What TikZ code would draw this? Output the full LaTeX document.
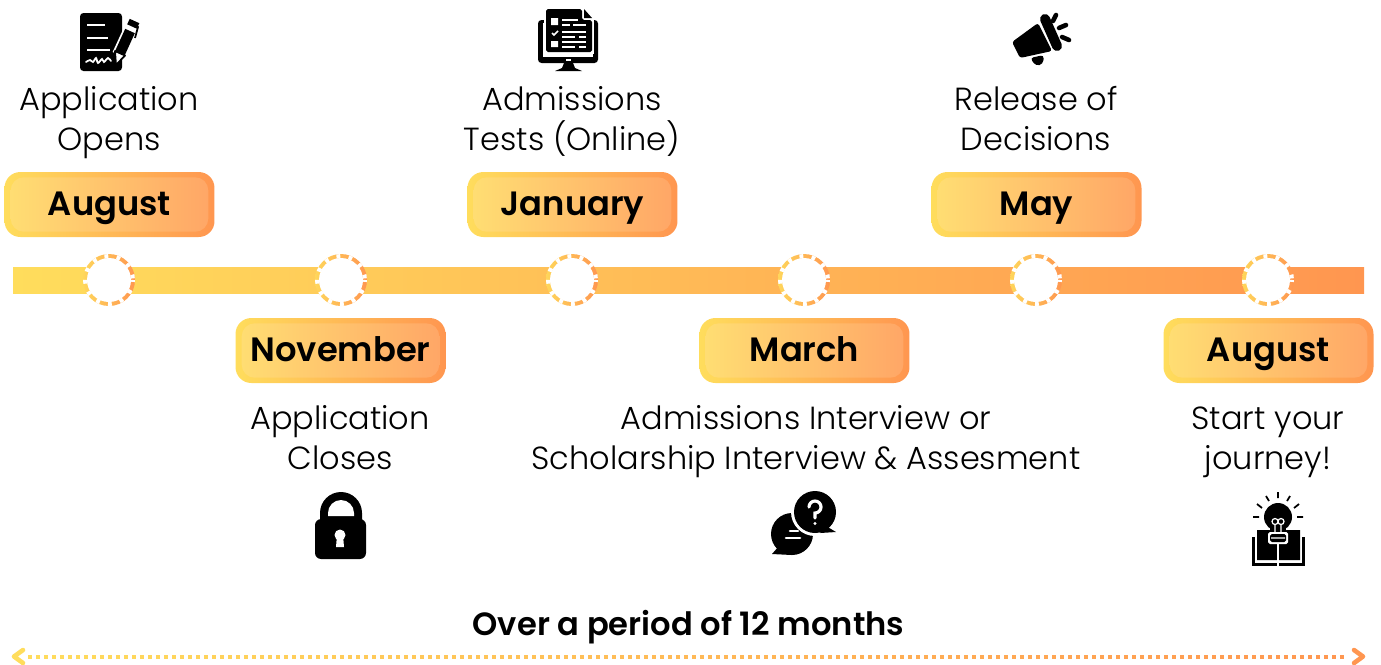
\documentclass[tikz,border=0pt]{standalone}
\usepackage{fontspec}
\setmainfont{Poppins Light}[BoldFont=Poppins SemiBold]
\usetikzlibrary{arrows.meta}
\definecolor{barleft}{HTML}{FFDD5C}
\definecolor{barright}{HTML}{FF9650}
\definecolor{innerleft}{HTML}{FFDF73}
\definecolor{innerright}{HTML}{FFA566}
\tikzset{
  monthbox/.style={minimum width=4.2cm, minimum height=1.3cm, inner sep=0pt, rounded corners=9pt,
    left color=barleft, right color=barright, font=\fontsize{19.2}{23}\selectfont\bfseries, text=black,
    text height=16pt, text depth=4pt,
    path picture={\shade[left color=innerleft, right color=innerright, rounded corners=7.5pt]
      ([xshift=3.5pt,yshift=3pt]path picture bounding box.south west) rectangle
      ([xshift=-3.5pt,yshift=-3pt]path picture bounding box.north east);}},
  ringdot/.style={circle, minimum size=1.04cm, inner sep=0pt, left color=barleft!90!barright, right color=barright,
    path picture={\fill[white] (path picture bounding box.center) circle (22);
      \draw[white, line width=3pt, dash pattern=on 2.2pt off 4.92pt, dash phase=1.1pt]
      (path picture bounding box.center) circle (24.5);}},
  steplabel/.style={align=center, anchor=base, font=\fontsize{18.2}{22.7}\selectfont, text=black},
}
\begin{document}
\begin{tikzpicture}[x=0.02cm,y=-0.02cm]
  \useasboundingbox (0,0) rectangle (1381,664);
  \shade[left color=barleft, right color=barright] (13,267) rectangle (1364,293); % bar
  \foreach \name/\x in {a/109,b/341,c/572,d/804,e/1036,f/1268}
    \node[ringdot] (ring\name) at (\x,280) {}; % dashed circles

  \node[monthbox] (aug) at (109.5,204.5) {August};
  \node[monthbox] (jan) at (572.5,204.5) {January};
  \node[monthbox] (may) at (1036.5,204.5) {May};
  \node[monthbox] (nov) at (340.5,350.5) {November};
  \node[monthbox] (mar) at (804.5,350.5) {March};
  \node[monthbox] (start) at (1268.5,350.5) {August};

  \node[steplabel] (opens) at (109,150) {Application\\Opens};
  \node[steplabel] (tests) at (572,150) {Admissions\\Tests (Online)};
  \node[steplabel] (release) at (1036,150) {Release of\\Decisions};
  \node[steplabel] (closes) at (340,469) {Application\\Closes};
  \node[steplabel] (interview) at (806,469) {Admissions Interview or\\Scholarship Interview \& Assesment};
  \node[steplabel] (journey) at (1268,469) {Start your\\journey!};
  \node[anchor=base, font=\fontsize{18.3}{22}\selectfont\bfseries] (period) at (688.5,635) {Over a period of 12 months};

  % arrow under the title
  \coordinate (arrowl) at (14,656.5);
  \coordinate (arrowr) at (1363,656.5);
  \foreach \i in {2,...,166} {
    \pgfmathsetmacro{\mix}{\i/168*100}
    \fill[barright!\mix!barleft] ([xshift=\i*8*0.02cm-2*0.02cm,yshift=2*0.02cm]arrowl) rectangle ++(4,4);
  }
  \draw[barleft, line width=2.6pt, line cap=round, line join=round] (23,650) -- (arrowl) -- (23,663); % left head
  \draw[barright, line width=2.6pt, line cap=round, line join=round] (1354,650) -- (arrowr) -- (1354,663); % right head

  % document and pen
  \fill[black, rounded corners=2pt] (80,13) rectangle (122,71);
  \draw[white, line width=1pt] (87,25) -- (105,25) (87,38) -- (108,38) (87,50) -- (110,50);
  \draw[white, line width=1pt, line cap=round] plot[smooth] coordinates {(86,62) (90,60) (93,62) (96,58) (98,63) (102,59) (104,62) (108,58) (111,61)};
  \draw[white, line width=8pt] (119,55) -- (131,29);
  \draw[black, line width=6pt] (120,53) -- (130,31);
  \draw[black, fill=white, line width=1pt, line join=round] (115,51) -- (125,55.5) -- (116,65) -- cycle;
  \draw[black, line width=6pt] (132,26.5) -- (134.5,21);
  \draw[black, line width=1pt] (133,23) -- (138,27) -- (135,38);

  % monitor with test sheet
  \fill[black, rounded corners=2pt] (538,20) rectangle (598,63);
  \fill[white] (543,23) rectangle (593,57);
  \fill[white] (566,59) rectangle (571,61);
  \fill[black] (564,63) -- (573,63) -- (575,68) -- (582,71) -- (555,71) -- (562,68) -- cycle;
  \fill[white] (544,7) rectangle (594,54);
  \fill[black, rounded corners=1pt] (546,9) -- (582,9) -- (582,20) -- (592,20) -- (592,52) -- (546,52) -- cycle;
  \fill[black] (584,9) -- (592,18) -- (584,18) -- cycle;
  \fill[white] (551,18) rectangle (558,25) (551,41) rectangle (558,47);
  \draw[white, line width=0.9pt] (552,33) -- (554,35) -- (558,31);
  \draw[white, line width=0.8pt] (562,20) -- (578,20) (562,25) -- (570,25) (573,25) -- (586,25)
    (562,32) -- (586,32) (562,37) -- (575,37) (579,37) -- (586,37)
    (562,42) -- (586,42) (562,47) -- (575,47) (579,47) -- (586,47);

  % megaphone
  \fill[black, rounded corners=1.5pt] (1012,42) -- (1038,23) -- (1052,51) -- (1020,58) -- cycle;
  \draw[black, line width=5.7pt, line cap=round] (1045,19) -- (1057,46);
  \fill[black, rounded corners=2pt] (1030,58) -- (1044,55) -- (1043,64) -- (1036,66) -- cycle;
  \draw[black, line width=2.6pt, line cap=round] (1056,15) -- (1053,21) (1066,25) -- (1059,28) (1069,40) -- (1062,37);

  % lock
  \fill[black, rounded corners=3.5pt] (315,519) rectangle (366,559);
  \fill[black] (320,522) -- (320,513) arc[start angle=180, end angle=360, radius=21] -- (362,522) -- cycle;
  \fill[white] (328,516) -- (328,513) arc[start angle=180, end angle=360, radius=13] -- (354,516) -- cycle;
  \fill[white] (340,535) circle (5.5);
  \fill[white] (337,535) -- (343,535) -- (344,547) -- (336,547) -- cycle;

  % speech bubbles
  \fill[black] (792,534) circle (21);
  \fill[black] (779,546) -- (772,554) -- (792,555) -- cycle;
  \fill[white] (815,512) circle (24);
  \fill[black] (815,512) circle (21);
  \fill[black] (826,526) -- (836,532) -- (820,533) -- cycle;
  \draw[white, line width=1.5pt, line cap=round] (790,531) -- (798,531) (786,538) -- (800,538);
  \draw[white, line width=1.8pt, line cap=round] (809,507) arc[start angle=180, end angle=450, radius=6] -- (815,518);
  \fill[white] (815,523.5) circle (1.7);

  % bulb over open book
  \fill[black] (1252,537) rectangle (1305,566);
  \fill[white] (1255,530) rectangle (1302,562.5);
  \fill[black] (1257,530) rectangle (1277,560) (1279,530) rectangle (1300,560);
  \draw[white, line width=0.8pt] (1278,544) -- (1278,566);
  \fill[white] (1278,517) circle (15.5);
  \fill[black] (1278,517) circle (14);
  \fill[black] (1270,525) rectangle (1286,533);
  \fill[white, rounded corners=1pt] (1268,532) rectangle (1288,544);
  \fill[black, rounded corners=1pt] (1270,534) rectangle (1286,542);
  \draw[white, line width=0.7pt] (1271,538) -- (1285,538)
    (1275,533) -- (1275,524) (1281,533) -- (1281,524) (1275,521.5) circle (3) (1281,521.5) circle (3);
  \draw[black, line width=1pt] (1278,492) -- (1278,498) (1266,496) -- (1269,501) (1290,496) -- (1287,501)
    (1257,504) -- (1262,508) (1299,504) -- (1294,508) (1253,517) -- (1259,517) (1297,517) -- (1303,517);
\end{tikzpicture}
\end{document}
